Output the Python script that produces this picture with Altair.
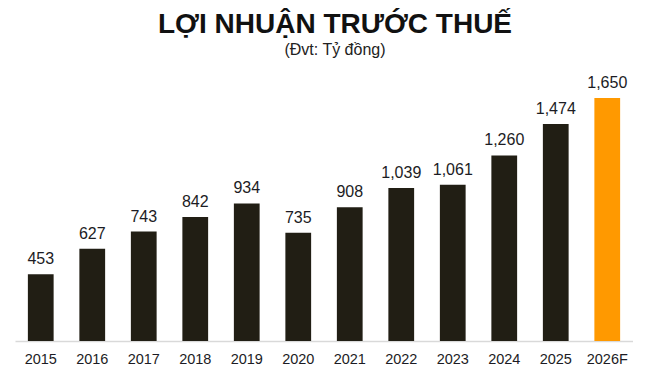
import altair as alt
import pandas as pd

years = ["2015", "2016", "2017", "2018", "2019", "2020", "2021", "2022", "2023", "2024", "2025", "2026F"]
profit = [453, 627, 743, 842, 934, 735, 908, 1039, 1061, 1260, 1474, 1650]
kind = ["actual"] * 11 + ["forecast"]

df = pd.DataFrame({"year": years, "profit": profit, "kind": kind})

base = alt.Chart(df).encode(
    x=alt.X("year:N", sort=years,
            scale=alt.Scale(paddingInner=0.5, paddingOuter=0.25),
            axis=alt.Axis(title=None, labelAngle=0, ticks=False, domainColor="#d9d9d9",
                          domainWidth=1.5, labelFont="Liberation Sans", labelFontSize=14.5,
                          labelColor="#1c1c24", labelPadding=22, labelBaseline="alphabetic")),
    y=alt.Y("profit:Q", scale=alt.Scale(domain=[0, 1840], nice=False),
            axis=None),
)

bars = base.mark_bar().encode(
    color=alt.Color("kind:N", scale=alt.Scale(domain=["actual", "forecast"],
                                              range=["#211e14", "#ff9900"]), legend=None)
)

labels = base.mark_text(baseline="alphabetic", dy=-10, font="Liberation Sans", fontSize=16,
                        color="#1c1c24").encode(
    text=alt.Text("profit:Q", format=",")
)

chart = alt.layer(bars, labels).properties(
    width=618, height=271,
    autosize=alt.AutoSizeParams(type="none"),
    padding={"left": 7, "top": 62, "right": 0, "bottom": 40},
    title=alt.TitleParams(
        text="LỢI NHUẬN TRƯỚC THUẾ",
        subtitle="(Đvt: Tỷ đồng)",
        font="Liberation Sans", fontSize=28, fontWeight="bold", color="#111111",
        subtitleFont="Liberation Sans", subtitleFontSize=16, subtitleColor="#222222",
        subtitlePadding=3, anchor="middle", offset=12, dx=11,
    ),
).configure_view(stroke=None)

chart.save("out.html", embed_options={"renderer": "svg", "actions": False})
